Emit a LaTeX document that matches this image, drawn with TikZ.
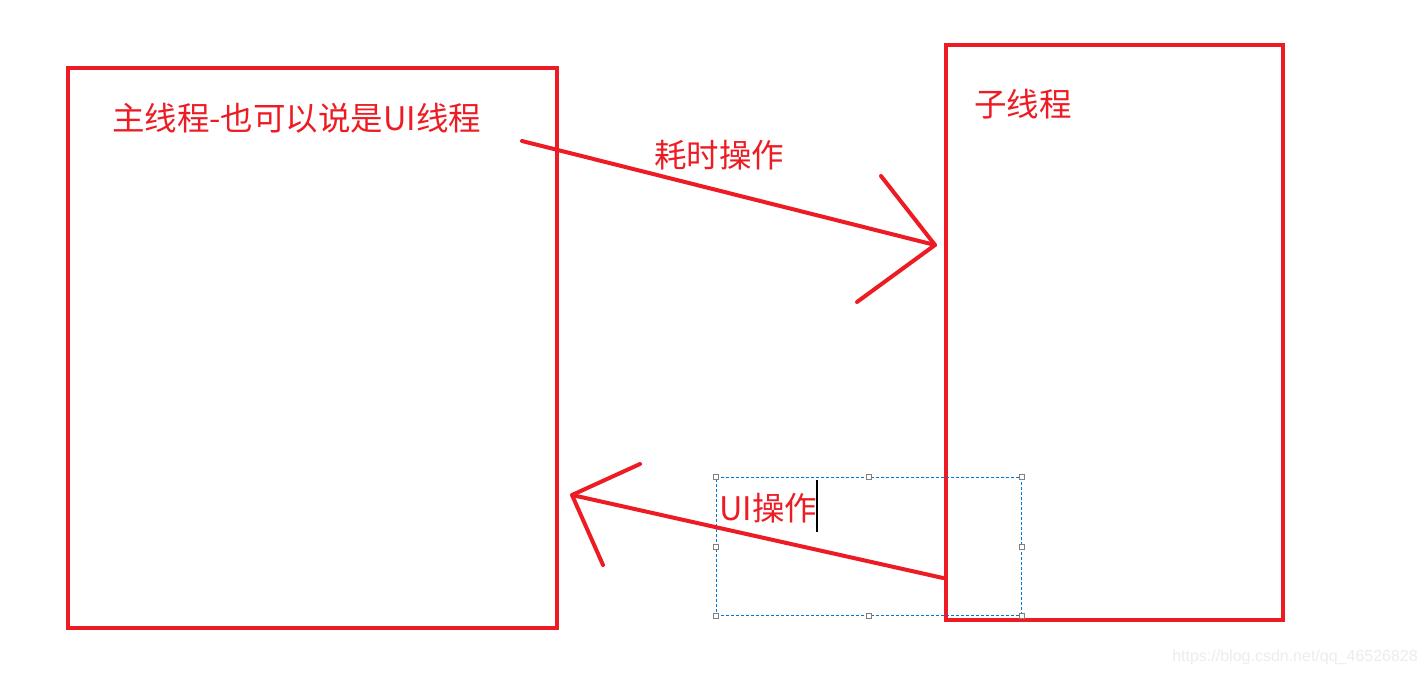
\documentclass[tikz,border=0pt]{standalone}
\usepackage{fontspec}
\newfontfamily\cjk{Noto Sans CJK SC}
\newfontfamily\wmfont{Liberation Sans}
\definecolor{paintred}{RGB}{237,28,36}
\definecolor{selblue}{RGB}{0,120,215}
\tikzset{ box/.style = { rectangle % thread frame
        , draw = paintred
        , line width = 4pt
        , inner sep = 0pt
        }
        , lbl/.style = { inner sep = 0pt % red text
        , anchor = west
        , text = paintred
        , font = \cjk\fontsize{32.5}{38}\selectfont
        }
        , stroke/.style = { draw = paintred % hand drawn line
        , line width = 4pt
        , line cap = round
        , line join = round
        }
        , handle/.style = { rectangle % selection handle
        , draw = gray
        , fill = white
        , line width = 0.8pt
        , minimum size = 5pt
        , inner sep = 0pt
        }
        }

\begin{document}
\begin{tikzpicture}[x=1pt, y=-1pt]
        \useasboundingbox (0,0) rectangle (1427,676);

        % threads
        \node [box, minimum width=489pt, minimum height=560pt, anchor=north west] (main) at (66,66) {};
        \node [box, minimum width=337pt, minimum height=575pt, anchor=north west] (sub) at (944,43) {};
        \node [lbl] (mainlbl) at (112,118) {主线程-也可以说是UI线程};
        \node [lbl] (sublbl) at (974,104) {子线程};

        % work goes to the sub thread
        \coordinate (go_s) at (522,141);
        \coordinate (go_e) at (935,245);
        \coordinate (go_l) at (881,176);
        \coordinate (go_r) at (857,302);
        \draw [stroke] (go_s) -- (go_e);
        \draw [stroke] (go_l) -- (go_e) -- (go_r);
        \node [lbl] (golbl) at (654,155) {耗时操作};

        % selection frame round the text
        \node [draw=selblue, dashed, dash pattern=on 3pt off 2pt, line width=0.8pt,
               minimum width=305pt, minimum height=138pt, inner sep=0pt, anchor=north west] (sel) at (716,477) {};
        \foreach \a in {north west,north,north east,east,south east,south,south west,west}
            \node [handle] at (sel.\a) {};

        % result comes back to the UI thread
        \coordinate (back_s) at (943,578);
        \coordinate (back_e) at (572,495);
        \coordinate (back_l) at (640,464);
        \coordinate (back_r) at (603,565);
        \draw [stroke] (back_s) -- (back_e);
        \draw [stroke] (back_l) -- (back_e) -- (back_r);
        \node [lbl] (backlbl) at (719,508) {UI操作};
        \coordinate (caret_t) at (817,480);
        \coordinate (caret_b) at (817,532);
        \draw [black, line width=1.2pt] (caret_t) -- (caret_b);

        \node [inner sep=0pt, anchor=east, text=gray!15, font=\wmfont\fontsize{16}{19}\selectfont] (wm) at (1418,657) {https://blog.csdn.net/qq\_46526828};
\end{tikzpicture}
\end{document}
